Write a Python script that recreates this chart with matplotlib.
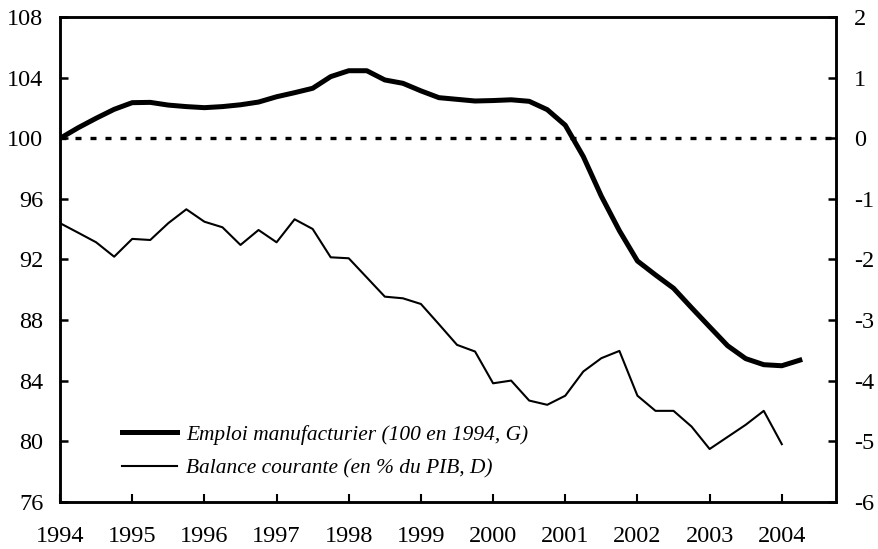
import matplotlib
matplotlib.use('Agg')
import matplotlib.pyplot as plt

plt.rcParams['font.family'] = 'Liberation Serif'
plt.rcParams['axes.unicode_minus'] = False

# Données trimestrielles, 1994T1 -> 2004T2
years = [1994, 1995, 1996, 1997, 1998, 1999, 2000, 2001, 2002, 2003, 2004]

# Emploi manufacturier (100 en 1994), échelle de gauche
emploi = [100.0, 100.7, 101.33, 101.92, 102.36, 102.38, 102.2, 102.1, 102.03, 102.1,
          102.22, 102.4, 102.75, 103.02, 103.31, 104.08, 104.47, 104.47, 103.86, 103.64,
          103.14, 102.69, 102.58, 102.47, 102.5, 102.55, 102.45, 101.9, 100.87, 98.8,
          96.18, 93.9, 91.9, 90.98, 90.1, 88.81, 87.55, 86.3, 85.45, 85.05,
          84.98, 85.35]

# Balance courante (en % du PIB), échelle de droite
balance = [-1.40, -1.557, -1.716, -1.954, -1.66, -1.678, -1.40, -1.171, -1.376, -1.468,
           -1.76, -1.513, -1.716, -1.336, -1.496, -1.964, -1.98, -2.297, -2.614, -2.641,
           -2.735, -3.07, -3.41, -3.52, -4.045, -4.0, -4.33, -4.40, -4.25, -3.85,
           -3.63, -3.51, -4.25, -4.50, -4.50, -4.76, -5.13, -4.93, -4.73, -4.50,
           -5.05]

x_emploi = [1994 + i * 0.25 for i in range(len(emploi))]
x_balance = [1994 + i * 0.25 for i in range(len(balance))]

fig = plt.figure(figsize=(8.79, 5.49), dpi=100)
ax = fig.add_axes([0.0683, 0.0862, 0.951 - 0.0683, 0.9685 - 0.0862])
ax2 = ax.twinx()

# ligne de référence (100 à gauche, 0 à droite)
ax.axhline(100, color='black', lw=2.4, linestyle=(0, (1.8, 2.7)), zorder=1)

l1, = ax.plot(x_emploi, emploi, color='black', lw=3.6, solid_joinstyle='round',
              label='Emploi manufacturier (100 en 1994, G)')
l2, = ax2.plot(x_balance, balance, color='black', lw=1.5,
               label='Balance courante (en % du PIB, D)')

ax.set_xlim(1994, 2004.75)
ax.set_ylim(76, 108)
ax2.set_ylim(-6, 2)
ax.set_yticks(range(76, 109, 4))
ax2.set_yticks(range(-6, 3, 1))
ax.set_xticks(years)
ax.set_xticklabels([str(y) for y in years])

for a in (ax, ax2):
    for s in a.spines.values():
        s.set_linewidth(1.8)

ax.tick_params(axis='y', direction='in', length=6, width=1.8, labelsize=17.5, pad=12, right=False)
ax.tick_params(axis='x', direction='in', length=6, width=1.5, labelsize=17.5, pad=17.5, top=False)
ax2.tick_params(axis='y', direction='in', length=6, width=1.8, labelsize=17.5, pad=13)

ax2.legend(handles=[l1, l2], loc='upper left', bbox_to_anchor=(121.7 / 879, 1 - 425 / 549),
           bbox_transform=fig.transFigure, frameon=False, borderpad=0, borderaxespad=0,
           handlelength=2.6, handletextpad=0.42, labelspacing=0.65,
           prop={'family': 'Liberation Serif', 'style': 'italic', 'size': 15.4})

fig.savefig('out.png', dpi=100)
